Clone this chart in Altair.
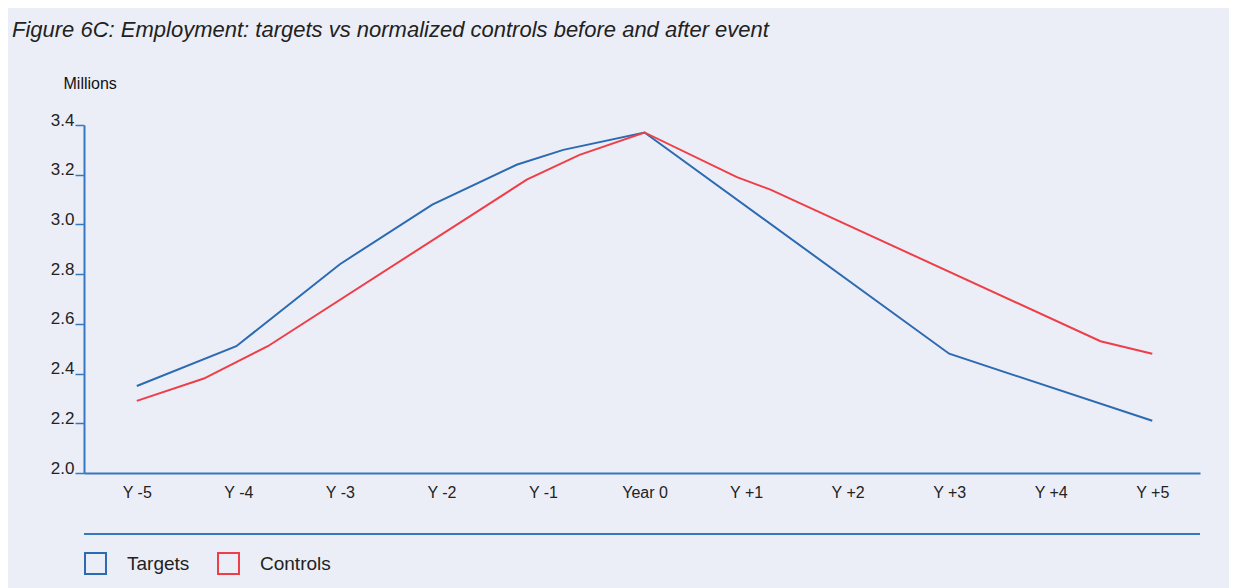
import altair as alt
import pandas as pd

# ---- data ----
tick_labels = ["Y -5", "Y -4", "Y -3", "Y -2", "Y -1", "Year 0",
               "Y +1", "Y +2", "Y +3", "Y +4", "Y +5"]
tick_values = [-5, -4, -3, -2, -1, 0, 1, 2, 3, 4, 5]

targets_x = [-5.0, -4.02, -3.0, -2.09, -1.26, -0.8, 0.0, 3.0, 5.0]
targets_y = [2.35, 2.51, 2.84, 3.08, 3.24, 3.30, 3.37, 2.48, 2.21]

controls_x = [-5.0, -4.34, -3.71, -1.16, -0.64, 0.0, 0.91, 1.24, 4.49, 5.0]
controls_y = [2.29, 2.38, 2.51, 3.18, 3.28, 3.37, 3.19, 3.14, 2.53, 2.48]

series = ["Targets", "Controls"]
colors = ["#2C6AB1", "#EE3E48"]

rows = []
for i, (x, y) in enumerate(zip(targets_x, targets_y)):
    rows.append({"series": "Targets", "t": x, "value": y, "order": i})
for i, (x, y) in enumerate(zip(controls_x, controls_y)):
    rows.append({"series": "Controls", "t": x, "value": y, "order": i})
df = pd.DataFrame(rows)

label_expr = "[" + ",".join("'" + s + "'" for s in tick_labels) + "][datum.value + 5]"

AXIS_BLUE = "#3478C0"
FONT = "Liberation Sans"

lines = alt.Chart(df).mark_line(strokeWidth=2).encode(
    x=alt.X("t:Q",
            scale=alt.Scale(domain=[-5.52, 5.47], nice=False, zero=False),
            axis=alt.Axis(values=tick_values, labelExpr=label_expr, title=None,
                          grid=False, ticks=False, domainColor=AXIS_BLUE,
                          domainWidth=2, labelPadding=11, labelFontSize=16,
                          labelColor="#222222", labelFont=FONT)),
    y=alt.Y("value:Q",
            scale=alt.Scale(domain=[2.0, 3.4], nice=False, zero=False),
            axis=alt.Axis(values=[2.0, 2.2, 2.4, 2.6, 2.8, 3.0, 3.2, 3.4],
                          format=".1f", grid=False, domainColor=AXIS_BLUE,
                          domainWidth=2, tickColor=AXIS_BLUE, tickSize=9,
                          tickWidth=1.5, labelPadding=1, labelFontSize=17,
                          labelBaseline="alphabetic", labelColor="#222222",
                          labelFont=FONT,
                          title="Millions", titleAngle=0, titleX=-21,
                          titleY=-37, titleAlign="left",
                          titleBaseline="alphabetic", titleFontSize=16,
                          titleFontWeight="normal", titleColor="#111111",
                          titleFont=FONT)),
    color=alt.Color("series:N",
                    scale=alt.Scale(domain=series, range=colors),
                    sort=series,
                    legend=alt.Legend(title=None, orient="none", legendX=0,
                                      legendY=427, direction="horizontal",
                                      symbolType="square", symbolSize=440,
                                      symbolStrokeWidth=2,
                                      symbolFillColor="transparent",
                                      labelFontSize=19, labelFont=FONT,
                                      labelColor="#222222", labelOffset=20,
                                      columnPadding=24)),
    order="order:Q",
)

legend_rule = alt.Chart(df).mark_rule(color=AXIS_BLUE, strokeWidth=2).encode(
    x=alt.value(0), x2=alt.value(1116), y=alt.value(409)
)

chart = alt.layer(lines, legend_rule).properties(
    width=1116,
    height=348,
    autosize="none",
    padding={"left": 76, "top": 117, "right": 29, "bottom": 115},
    background="#ECEEF7",
    title=alt.TitleParams(
        "Figure 6C: Employment: targets vs normalized controls before and after event",
        anchor="start", frame="group", dx=-72, dy=-29, fontSize=22,
        fontStyle="italic", fontWeight="normal", font=FONT, color="#222222"),
).configure_view(stroke=None)

chart.save("out.html", embed_options={"renderer": "svg", "actions": False})
